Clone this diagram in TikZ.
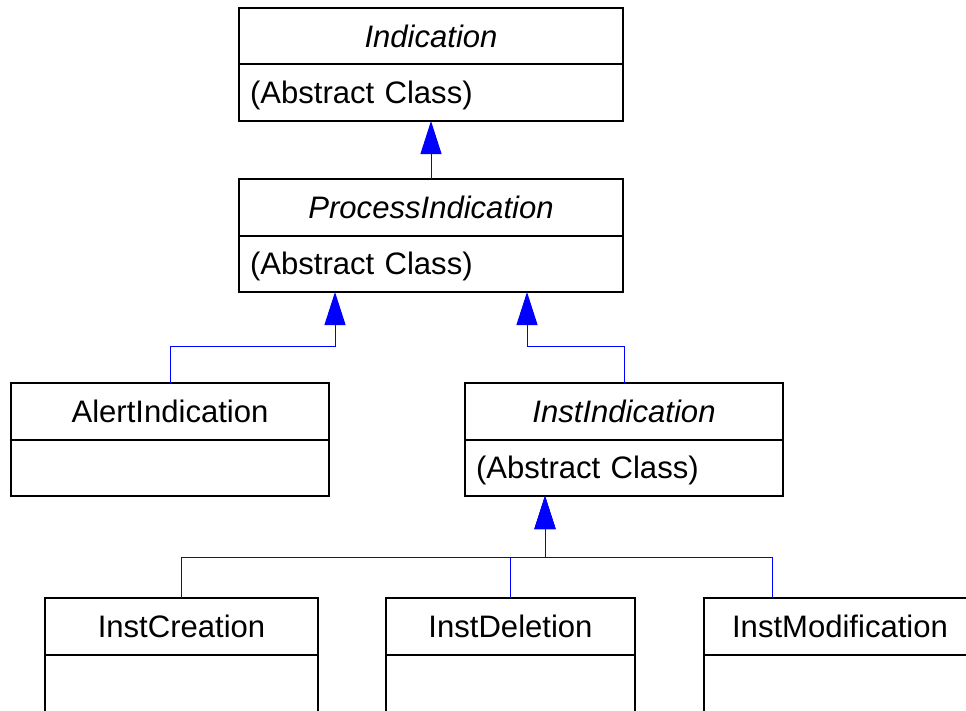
\documentclass[tikz,border=0pt]{standalone}
\usepackage{fontspec}
\setmainfont{Liberation Sans}
\usetikzlibrary{arrows.meta}
\begin{document}
\begin{tikzpicture}[x=0.75pt,y=-0.75pt,
  every node/.style={font=\fontsize{23.3}{28}\selectfont},
  box/.style={draw=black, line width=1.5pt, inner sep=0pt, outer sep=0pt, anchor=north west},
  hdr/.style={box, minimum height=56.5*0.75pt, text height=17pt, text depth=0pt},
  bodybox/.style={box, minimum height=56.5*0.75pt, align=left, inner xsep=11*0.75pt, text height=20.5pt, text depth=4.9pt},
  lowbody/.style={box, minimum height=90*0.75pt},
  gen/.style={draw=blue, line width=0.75pt, -{Triangle[width=21*0.75pt,length=33*0.75pt]}}]
\useasboundingbox (0,0) rectangle (966,710);
\begin{scope}
\clip (0,0) rectangle (966,710);
% Indication
\node[hdr, minimum width=384*0.75pt] (indH) at (239,8) {\itshape Indication};
\node[bodybox, minimum width=384*0.75pt, text width=362*0.75pt] (indB) at (indH.south west) {(Abstract Class)};
% ProcessIndication
\node[hdr, minimum width=384*0.75pt] (procH) at (239,179) {\itshape ProcessIndication};
\node[bodybox, minimum width=384*0.75pt, text width=362*0.75pt] (procB) at (procH.south west) {(Abstract Class)};
% AlertIndication
\node[hdr, minimum width=318*0.75pt] (alertH) at (11,383) {AlertIndication};
\node[box, minimum width=318*0.75pt, minimum height=56.5*0.75pt] (alertB) at (alertH.south west) {};
% InstIndication
\node[hdr, minimum width=318*0.75pt] (instH) at (465,383) {\itshape InstIndication};
\node[bodybox, minimum width=318*0.75pt, text width=296*0.75pt] (instB) at (instH.south west) {(Abstract Class)};
% bottom row
\node[hdr, minimum width=273*0.75pt, minimum height=57*0.75pt] (creH) at (45,598) {InstCreation};
\node[lowbody, minimum width=273*0.75pt] (creB) at (creH.south west) {};
\node[hdr, minimum width=249*0.75pt, minimum height=57*0.75pt] (delH) at (386,598) {InstDeletion};
\node[lowbody, minimum width=249*0.75pt] (delB) at (delH.south west) {};
\node[hdr, minimum width=272*0.75pt, minimum height=57*0.75pt] (modH) at (704,598) {InstModification};
\node[lowbody, minimum width=272*0.75pt] (modB) at (modH.south west) {};
% tip points
\coordinate (tipA) at ([xshift=96*0.75pt]procB.south west);
\coordinate (tipB) at ([xshift=288*0.75pt]procB.south west);
\coordinate (tipC) at ([xshift=80*0.75pt]instB.south west);
\coordinate (modTop) at ([xshift=68*0.75pt]modH.north west);
% connectors
\draw[gen] (procH.north) -- (indB.south);
\draw[gen] (alertH.north) -- ++(0,-37) -| (tipA);
\draw[gen] (instH.north) -- ++(0,-37) -| (tipB);
\draw[gen] (creH.north) -- ++(0,-41) -| (tipC);
\draw[gen] (delH.north) -- ++(0,-41) -| (tipC);
\draw[gen] (modTop) -- ++(0,-41) -| (tipC);
\end{scope}
\end{tikzpicture}
\end{document}
